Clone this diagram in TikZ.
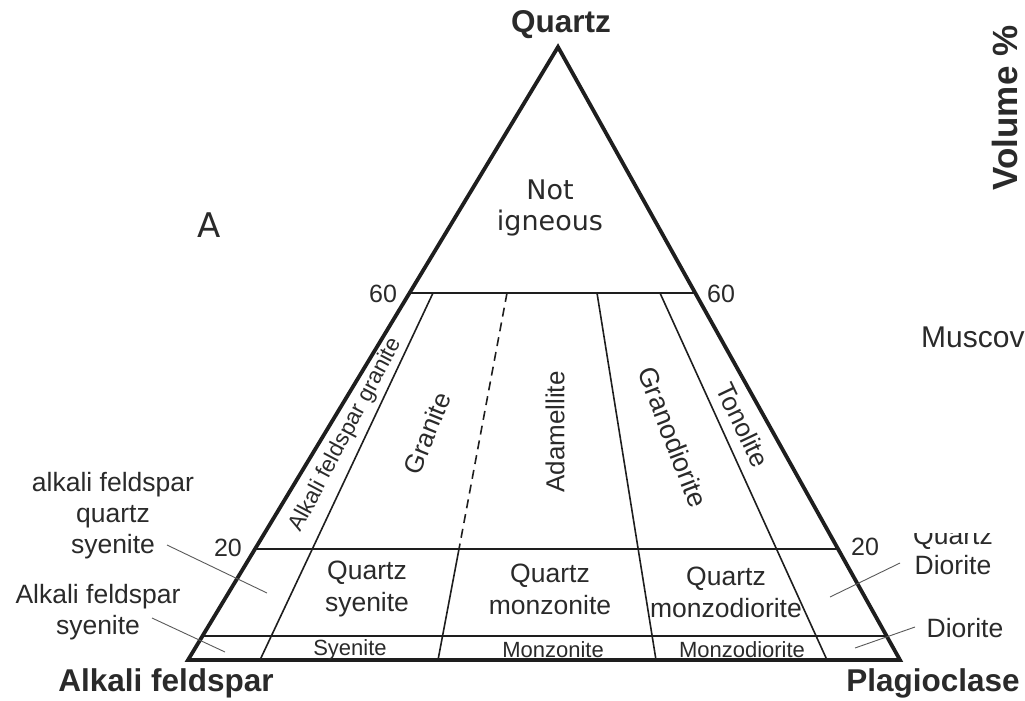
\documentclass[tikz,border=0pt]{standalone}
\usepackage{fontspec}
\setmainfont{Liberation Sans}
\newfontfamily\dejavu{DejaVu Sans}
\definecolor{ink}{HTML}{2A2A2A}
\definecolor{lineink}{HTML}{1E1E1E}
\newcommand{\fs}[2]{\fontsize{#1}{#2}\selectfont}
\begin{document}
\begin{tikzpicture}[x=1pt,y=-1pt,
  outer/.style={draw=lineink,line width=3.8pt,line join=miter},
  divline/.style={draw=lineink,line width=1.6pt},
  dashdiv/.style={draw=lineink,line width=1.6pt,dash pattern=on 9pt off 6pt},
  leader/.style={draw=black!65,line width=0.9pt},
  lbl/.style={text=ink,inner sep=0pt,align=center},
  corner/.style={lbl,font=\bfseries\fs{31.5}{36}},
  field/.style={lbl,font=\fs{26.5}{32}},
  small/.style={lbl,font=\fs{22}{26}},
  tick/.style={lbl,font=\fs{25}{30}},
  side/.style={lbl,font=\fs{26.5}{31}},
  rot/.style={lbl,font=\fs{26}{30}}]
\useasboundingbox (0,0) rectangle (1025,701);
% triangle corners
\coordinate (Q) at (558,47);
\coordinate (L) at (188,660);
\coordinate (R) at (900,660);
% points on edges
\coordinate (L60) at (409.5,293);
\coordinate (R60) at (695,293);
\coordinate (L20) at (255,549);
\coordinate (R20) at (838,549);
\coordinate (L5) at (202.5,636);
\coordinate (R5) at (886.6,636);
% division line ends
\coordinate (a1) at (433,293); \coordinate (a2) at (260,660);
\coordinate (d1) at (507,293); \coordinate (d2) at (459,549); \coordinate (d3) at (438,660);
\coordinate (g1) at (597,293); \coordinate (g2) at (656,660);
\coordinate (t1) at (660,293); \coordinate (t2) at (827,660);
% horizontal lines
\draw[divline] (L60) -- (R60);
\draw[divline] (L20) -- (R20);
\draw[divline] (L5) -- (R5);
% division lines
\draw[divline] (a1) -- (a2);
\draw[dashdiv] (d1) -- (d2);
\draw[divline] (d2) -- (d3);
\draw[divline] (g1) -- (g2);
\draw[divline] (t1) -- (t2);
% outer triangle
\draw[outer] (Q) -- (R) -- (L) -- cycle;
% corner labels
\node[corner] (nq) at (561,25) {Quartz};
\node[corner] (nak) at (166,683) {Alkali feldspar};
\node[corner] (npl) at (933,683) {Plagioclase};
\node[lbl,font=\bfseries\fs{35}{40},rotate=90] (nvol) at (1005,108) {Volume \%};
\node[lbl,font=\fs{30}{34},anchor=west] (nmus) at (921,337) {Muscovite};
\node[lbl,font=\dejavu\fs{34}{40}] (nA) at (209,225) {A};
\node[lbl,font=\dejavu\fs{27}{31}] (nni) at (550,208) {Not\\igneous};
% ticks
\node[tick] (t60l) at (383,294) {60};
\node[tick] (t60r) at (721,294) {60};
\node[tick] (t20l) at (228,548) {20};
\node[tick] (t20r) at (865,547) {20};
% rotated field names
\node[rot,font=\fs{22.5}{26},rotate=62] (nafg) at (346,435) {Alkali feldspar granite};
\node[rot,rotate=68] (ngr) at (427,433) {Granite};
\node[rot,rotate=90] (nad) at (555,432) {Adamellite};
\node[rot,font=\fs{27}{30},rotate=-69] (ngd) at (673,437) {Granodiorite};
\node[rot,rotate=-64.5] (nto) at (743,425) {Tonolite};
% quartz-bearing row
\node[field] (nqs) at (367,589) {Quartz\\syenite};
\node[field] (nqm) at (550,589) {Quartz\\monzonite};
\node[field] (nqmd) at (726,592) {Quartz\\monzodiorite};
% bottom row
\node[small] (nsy) at (350,650) {Syenite};
\node[small] (nmo) at (553,650) {Monzonite};
\node[small] (nmd) at (742,650) {Monzodiorite};
% side labels left
\node[side] (nafqs) at (113,516) {alkali feldspar\\quartz\\syenite};
\node[side] (nafs) at (98,612) {Alkali feldspar\\syenite};
\coordinate (e1a) at (167,545); \coordinate (e1b) at (267,593);
\coordinate (e2a) at (152,618); \coordinate (e2b) at (225,652);
\draw[leader] (e1a) -- (e1b);
\draw[leader] (e2a) -- (e2b);
% side labels right
\begin{scope}
\clip (900,533) rectangle (1025,701);
\node[side,font=\fs{26.5}{30}] (nqd) at (953,550) {Quartz\\Diorite};
\end{scope}
\node[side,font=\fs{26.5}{30}] (ndi) at (965,628) {Diorite};
\coordinate (e3a) at (900,563); \coordinate (e3b) at (830,597);
\coordinate (e4a) at (915,627); \coordinate (e4b) at (855,648);
\draw[leader] (e3a) -- (e3b);
\draw[leader] (e4a) -- (e4b);
\end{tikzpicture}
\end{document}
